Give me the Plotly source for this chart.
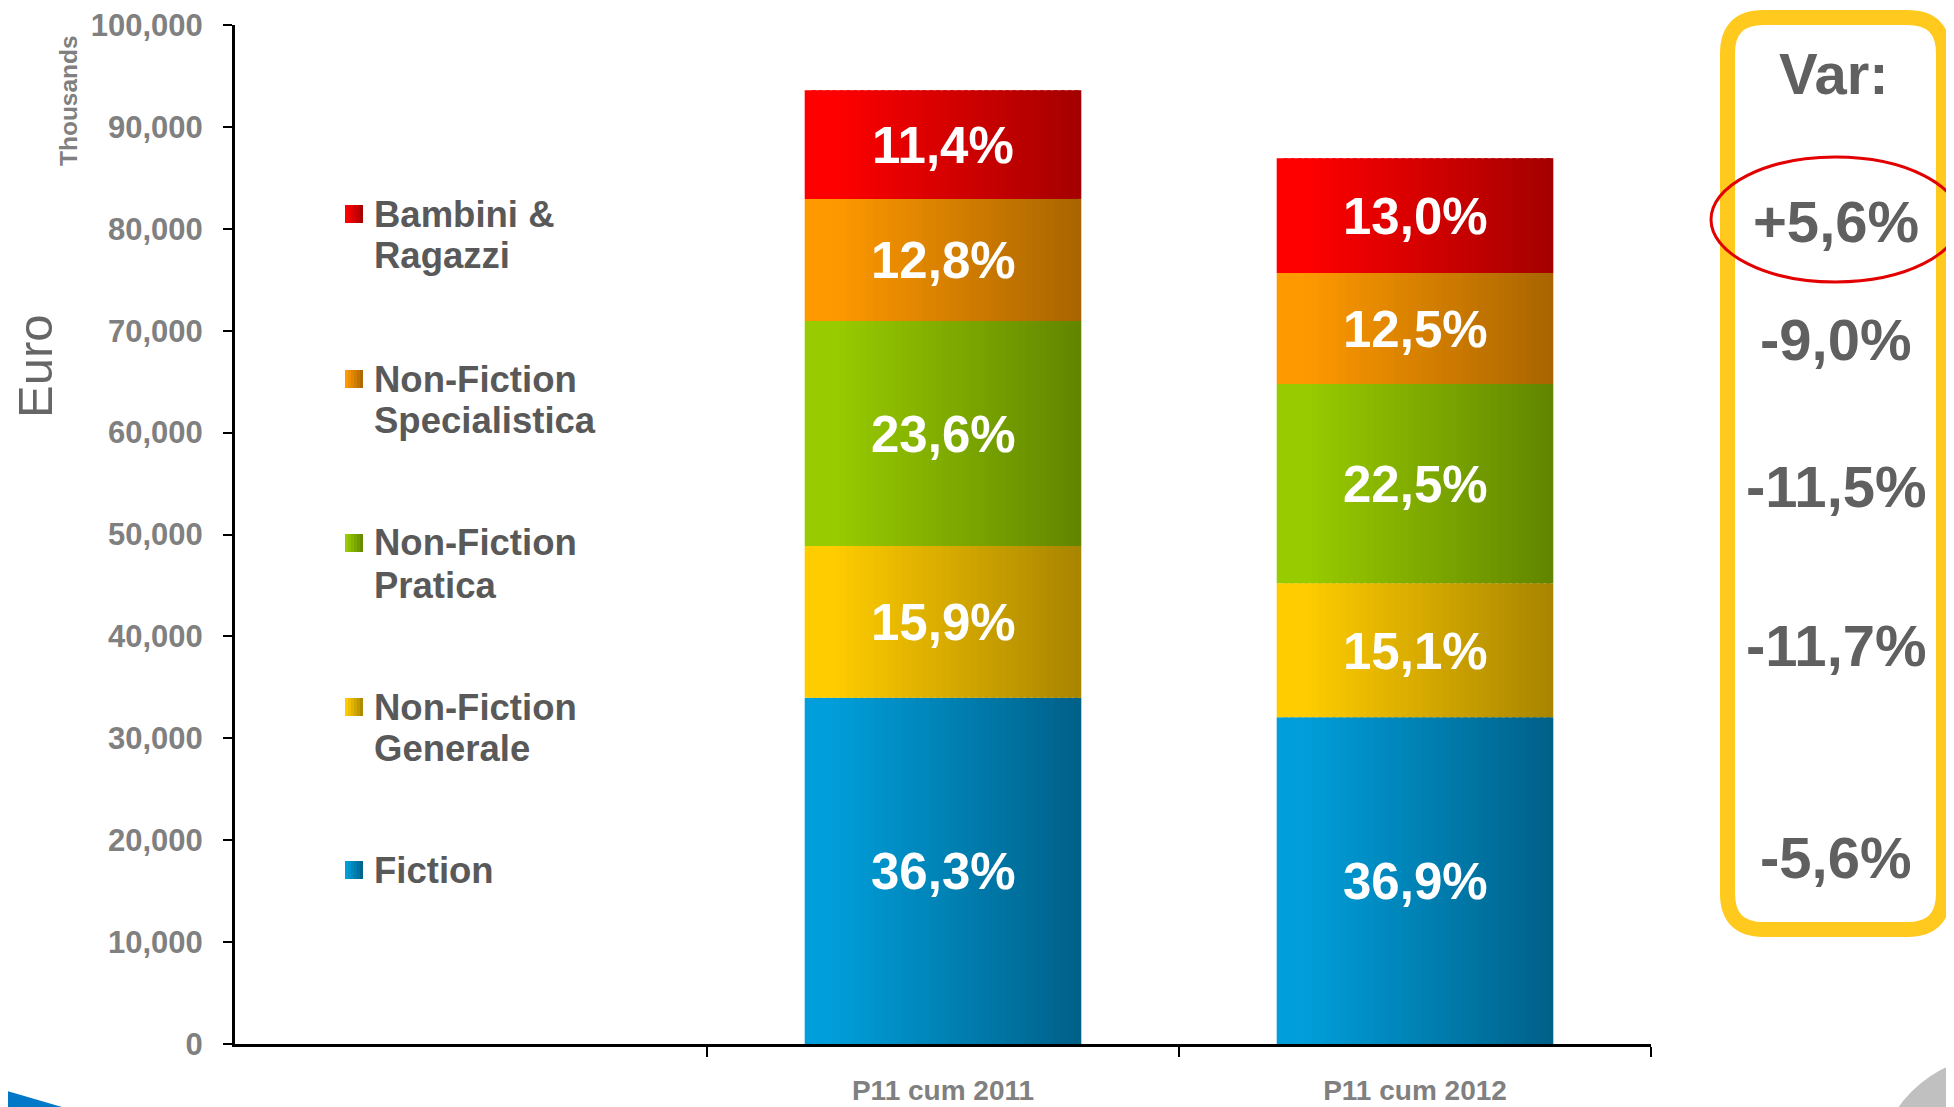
import plotly.graph_objects as go

# ---------------- data ----------------
categories = ["P11 cum 2011", "P11 cum 2012"]
segments = ["Fiction", "Non-Fiction Generale", "Non-Fiction Pratica",
            "Non-Fiction Specialistica", "Bambini & Ragazzi"]
fiction = [33980, 32070]
nf_generale = [14880, 13140]
nf_pratica = [22090, 19550]
nf_specialistica = [11980, 10900]
bambini = [10670, 11270]
fiction_lbl = ["36,3%", "36,9%"]
generale_lbl = ["15,9%", "15,1%"]
pratica_lbl = ["23,6%", "22,5%"]
special_lbl = ["12,8%", "12,5%"]
bambini_lbl = ["11,4%", "13,0%"]
var_title = "Var:"
var_labels = ["+5,6%", "-9,0%", "-11,5%", "-11,7%", "-5,6%"]  # top to bottom
legend_lines = [["Bambini &", "Ragazzi"], ["Non-Fiction", "Specialistica"],
                ["Non-Fiction", "Pratica"], ["Non-Fiction", "Generale"], ["Fiction"]]
y_ticks = [0, 10000, 20000, 30000, 40000, 50000, 60000, 70000, 80000, 90000, 100000]

# ---------------- styling ----------------
seg_values = [fiction, nf_generale, nf_pratica, nf_specialistica, bambini]
seg_labels = [fiction_lbl, generale_lbl, pratica_lbl, special_lbl, bambini_lbl]
grad = [("#009EDA", "#006088"),  # fiction
        ("#FFCC00", "#A88400"),  # generale
        ("#99CC00", "#618500"),  # pratica
        ("#FF9900", "#A86400"),  # specialistica
        ("#FF0000", "#A40000")]  # bambini
legend_grad = [grad[4], grad[3], grad[2], grad[1], grad[0]]

W, H = 1954, 1107
OFF = 8  # default body margin of the html page
L, R, T, B = 235, 1651, 25, 1044  # target plot area in page pixels
FONT = "Liberation Sans, Arial, sans-serif"


def px(x):
    return (x - L) / (R - L)


def py(y):
    return (B - y) / (B - T)


def hex2rgb(h):
    h = h.lstrip("#")
    return tuple(int(h[i:i + 2], 16) for i in (0, 2, 4))


def lerp(c1, c2, t):
    a, b = hex2rgb(c1), hex2rgb(c2)
    t = 0 if t < 0.1 else (t - 0.1) / 0.9
    return "rgb(%d,%d,%d)" % tuple(round(a[i] + (b[i] - a[i]) * t) for i in range(3))


xpos = [1, 2]
bar_w = 0.586
N = 40

fig = go.Figure()

bases = []
cum = [0, 0]
for vals in seg_values:
    bases.append(list(cum))
    cum = [cum[i] + vals[i] for i in range(2)]

# gradient bars: each bar split into N thin vertical strips
for k in range(N):
    t = (k + 0.5) / N
    xs, ys, bs, cs, hv = [], [], [], [], []
    for j, vals in enumerate(seg_values):
        for i in range(2):
            xs.append(xpos[i])
            ys.append(vals[i])
            bs.append(bases[j][i])
            cs.append(lerp(grad[j][0], grad[j][1], t))
            hv.append("%s<br>%s: %s" % (categories[i], segments[j], format(vals[i], ",")))
    sw = bar_w / N
    fig.add_trace(go.Bar(
        x=xs, y=ys, base=bs,
        offset=-bar_w / 2 + k * sw,
        width=sw * (1.6 if k < N - 1 else 1.0),
        marker=dict(color=cs, line=dict(width=0)),
        hovertext=hv, hoverinfo="text",
        showlegend=False))

shapes = []
annotations = []

# segment share labels, centred in each segment
for j, vals in enumerate(seg_values):
    for i in range(2):
        annotations.append(dict(
            x=xpos[i], y=bases[j][i] + vals[i] / 2, xref="x", yref="y",
            text=seg_labels[j][i], showarrow=False, yshift=-1,
            xanchor="center", yanchor="middle",
            font=dict(family=FONT, size=51, color="white", weight="bold")))

# custom legend
first_line_y = [214, 379, 543, 707, 870]
for e, lines in enumerate(legend_lines):
    y0 = first_line_y[e]
    for li, txt in enumerate(lines):
        annotations.append(dict(
            x=px(372), y=py(y0 + li * 42), xref="paper", yref="paper",
            xanchor="left", yanchor="middle", text=txt, showarrow=False,
            font=dict(family=FONT, size=36.5, color="#595959", weight="bold")))
    ns = 6
    sx0, sx1 = 345, 363
    for s in range(ns):
        a = sx0 + (sx1 - sx0) * s / ns
        b = sx0 + (sx1 - sx0) * (s + 1) / ns + (0.5 if s < ns - 1 else 0)
        shapes.append(dict(type="rect", xref="paper", yref="paper",
                           x0=px(a), x1=px(b), y0=py(y0 + 9), y1=py(y0 - 9),
                           fillcolor=lerp(legend_grad[e][0], legend_grad[e][1], (s + 0.5) / ns),
                           line=dict(width=0), layer="above"))

# axis titles
annotations.append(dict(x=px(35), y=py(366), xref="paper", yref="paper",
                        text="Euro", textangle=-90, showarrow=False,
                        xanchor="center", yanchor="middle",
                        font=dict(family=FONT, size=49, color="#666666")))
annotations.append(dict(x=px(68), y=py(101), xref="paper", yref="paper",
                        text="Thousands", textangle=-90, showarrow=False,
                        xanchor="center", yanchor="middle",
                        font=dict(family=FONT, size=24.5, color="#808080", weight="bold")))

# Var box
bx0, bx1, by0, by1, r = 1727.5, 1943.5, 17.5, 929.5, 36
path = ("M {a},{b} L {c},{b} Q {d},{b} {d},{e} L {d},{f} Q {d},{g} {c},{g} "
        "L {a},{g} Q {h},{g} {h},{f} L {h},{e} Q {h},{b} {a},{b} Z").format(
    a=px(bx0 + r), b=py(by0), c=px(bx1 - r), d=px(bx1), e=py(by0 + r),
    f=py(by1 - r), g=py(by1), h=px(bx0))
shapes.append(dict(type="path", path=path, xref="paper", yref="paper",
                   line=dict(color="#FFC91E", width=15), fillcolor="rgba(0,0,0,0)"))

annotations.append(dict(x=px(1834), y=py(73), xref="paper", yref="paper",
                        text=var_title, showarrow=False, xanchor="center", yanchor="middle",
                        font=dict(family=FONT, size=58, color="#606060", weight="bold")))
var_y = [221, 339, 486, 645, 857]
for txt, yy in zip(var_labels, var_y):
    annotations.append(dict(x=px(1836), y=py(yy), xref="paper", yref="paper",
                            text=txt, showarrow=False, xanchor="center", yanchor="middle",
                            font=dict(family=FONT, size=58, color="#606060", weight="bold")))

# red ellipse
shapes.append(dict(type="circle", xref="paper", yref="paper",
                   x0=px(1711), x1=px(1960), y0=py(282), y1=py(157),
                   line=dict(color="#E30000", width=3), fillcolor="rgba(0,0,0,0)"))

# decorations
shapes.append(dict(type="path", xref="paper", yref="paper",
                   path="M {},{} L {},{} L {},{} Z".format(px(0), py(1089), px(62), py(1107), px(0), py(1107)),
                   fillcolor="#0078C8", line=dict(width=0)))
shapes.append(dict(type="circle", xref="paper", yref="paper",
                   x0=px(1875), x1=px(2125), y0=py(1305), y1=py(1055),
                   fillcolor="#C0C0C0", line=dict(width=0)))

fig.update_layout(
    width=W, height=H,
    margin=dict(l=L - OFF, r=W - R + OFF, t=T - OFF, b=H - B + OFF, autoexpand=False),
    paper_bgcolor="white", plot_bgcolor="white",
    barmode="overlay",
    showlegend=False,
    shapes=shapes, annotations=annotations,
    xaxis=dict(range=[-0.5, 2.5], tickvals=xpos, ticktext=categories,
               ticks="", showgrid=False, zeroline=False, automargin=False,
               showline=True, linecolor="black", linewidth=3,
               ticklabeloverflow="allow",
               tickfont=dict(family=FONT, size=28, color="#808080", weight="bold"),
               minor=dict(tickvals=[0.5, 1.5, 2.5], ticks="outside", ticklen=10,
                          tickwidth=2, tickcolor="black", showgrid=False),
               ticklabelstandoff=19),
    yaxis=dict(range=[0, 100000], tickvals=y_ticks, tickformat=",",
               ticks="outside", ticklen=9, tickwidth=2, tickcolor="black",
               showgrid=False, zeroline=False, automargin=False,
               showline=True, linecolor="black", linewidth=3,
               ticklabeloverflow="allow",
               tickfont=dict(family=FONT, size=31, color="#808080", weight="bold"),
               ticklabelstandoff=14),
)

fig.write_html("out.html")
